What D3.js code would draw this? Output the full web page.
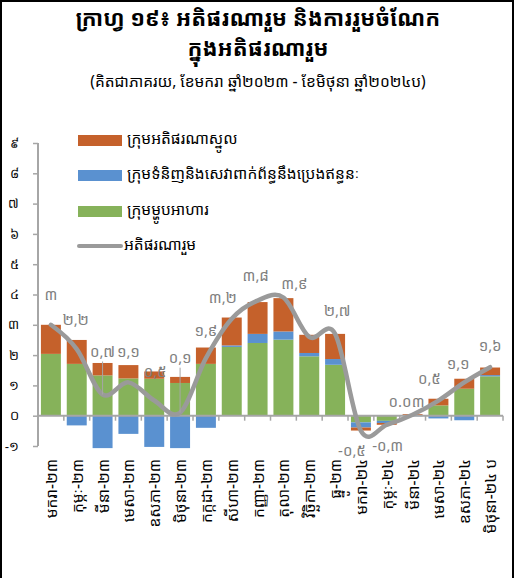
<!DOCTYPE html>
<html>
<head>
<meta charset="utf-8">
<script src="https://cdn.jsdelivr.net/npm/d3@7"></script>
<style>
  html, body { margin: 0; padding: 0; background: #fff; }
  svg { display: block; font-family: "Khmer OS", "Khmer OS System", "Noto Sans Khmer", "Noto Sans", sans-serif; }
</style>
</head>
<body>
<svg id="chart" width="515" height="578"></svg>
<script>
// months, Jan-23 .. Jun-24 (prelim.)
const months = ['មករា-២៣','កុម្ភៈ-២៣','មីនា-២៣','មេសា-២៣','ឧសភា-២៣','មិថុនា-២៣',
  'កក្កដា-២៣','សីហា-២៣','កញ្ញា-២៣','តុលា-២៣','វិច្ឆិកា-២៣','ធ្នូ-២៣',
  'មករា-២៤','កុម្ភៈ-២៤','មីនា-២៤','មេសា-២៤','ឧសភា-២៤','មិថុនា-២៤ ប'];

// contributions (percentage points)
const food   = [2.04, 1.71, 1.33, 1.23, 1.22, 1.08, 1.71, 2.27, 2.40, 2.51, 1.96, 1.68, -0.22, -0.17, 0.00, 0.34, 0.89, 1.30];
const energy = [0.00, -0.32, -1.07, -0.60, -1.03, -1.07, -0.40, 0.05, 0.30, 0.27, 0.11, 0.19, -0.17, -0.07, -0.02, -0.09, -0.15, 0.04];
const core   = [0.96, 0.79, 0.41, 0.44, 0.24, 0.20, 0.54, 0.92, 1.05, 1.10, 0.60, 0.83, -0.10, -0.06, 0.05, 0.22, 0.33, 0.25];
// headline
const headline = [3.0, 2.2, 0.7, 1.1, 0.5, 0.1, 1.9, 3.2, 3.8, 3.9, 2.6, 2.7, -0.5, -0.3, 0.03, 0.5, 1.1, 1.6];
const headlineLabels = ['៣','២,២','០,៧','១,១','០,៥','០,១','១,៩','៣,២','៣,៨','៣,៩','','២,៧','-០,៥','-០,៣','០.០៣','០,៥','១,១','១,៦'];

const yTicks = [-1,0,1,2,3,4,5,6,7,8,9];
const yTickLabels = ['-១','០','១','២','៣','៤','៥','៦','៧','៨','៩'];

const seriesNames = ['ក្រុមអតិផរណាស្នូល','ក្រុមទំនិញនិងសេវាពាក់ព័ន្ធនឹងប្រេងឥន្ធនៈ','ក្រុមម្ហូបអាហារ','អតិផរណារួម'];

const colors = { food: '#86b25a', energy: '#5a91d0', core: '#c5612b', line: '#9a9a9a' };

// label nudges [dx, dy] relative to the line point (manually placed in source)
const labelNudge = [[0,-29],[-1,-28],[0,-42],[0,-29],[1,-28],[0,-54],[0,-26],[-9,-20],[-2,-24],[11,-13],
  [0,0],[2,-22],[-9,21],[1,22],[-6,-12],[-9,-21],[-6,-17],[0,-20]];
const leaders = [2, 5];

const svg = d3.select('#chart');

// frame
svg.append('rect').attr('x', 1).attr('y', 1).attr('width', 512).attr('height', 600)
  .attr('fill', 'none').attr('stroke', '#000').attr('stroke-width', 2);

// titles
svg.append('text').attr('x', 258).attr('y', 20).attr('text-anchor', 'middle').attr('dominant-baseline', 'middle')
  .attr('font-size', 22).attr('font-weight', 'bold').text('ក្រាហ្វ ១៩៖ អតិផរណារួម និងការរួមចំណែក');
svg.append('text').attr('x', 258).attr('y', 50).attr('text-anchor', 'middle').attr('dominant-baseline', 'middle')
  .attr('font-size', 22).attr('font-weight', 'bold').text('ក្នុងអតិផរណារួម');
svg.append('text').attr('x', 258).attr('y', 83).attr('text-anchor', 'middle').attr('dominant-baseline', 'middle')
  .attr('font-size', 15.5).text('(គិតជាភាគរយ, ខែមករា ឆ្នាំ២០២៣ - ខែមិថុនា ឆ្នាំ២០២៤ប)');

const x = d3.scaleBand().domain(months).range([38, 503]).paddingInner(0.227).paddingOuter(0.113);
const y = d3.scaleLinear().domain([-1, 9]).range([446, 143]);

// stacked bars (diverging so negatives stack below zero)
const rows = months.map((m, i) => ({ m, food: food[i], energy: energy[i], core: core[i] }));
const stack = d3.stack().keys(['food', 'energy', 'core']).offset(d3.stackOffsetDiverging);
const layers = stack(rows);

svg.append('g').selectAll('g').data(layers).join('g')
  .attr('fill', d => colors[d.key])
  .selectAll('rect').data(d => d).join('rect')
  .attr('x', d => x(d.data.m))
  .attr('width', x.bandwidth())
  .attr('y', d => y(Math.max(d[0], d[1])))
  .attr('height', d => Math.abs(y(d[0]) - y(d[1])));

// y axis
const yAxis = svg.append('g').attr('transform', 'translate(38,0)')
  .call(d3.axisLeft(y).tickValues(yTicks).tickSize(5).tickPadding(14)
    .tickFormat((d, i) => yTickLabels[i]));
yAxis.select('.domain').attr('stroke', '#a6a6a6').attr('stroke-width', 2).attr('d', 'M0,143V446');
yAxis.selectAll('.tick line').attr('stroke', '#a6a6a6').attr('stroke-width', 1.5);
yAxis.selectAll('.tick text').attr('font-size', 13).attr('fill', '#000');

// x axis at zero with boundary ticks
const step = x.step();
const x0 = 38;
svg.append('line').attr('x1', x0).attr('x2', 503).attr('y1', y(0)).attr('y2', y(0))
  .attr('stroke', '#a6a6a6').attr('stroke-width', 2);
svg.append('g').selectAll('line').data(d3.range(months.length + 1)).join('line')
  .attr('x1', i => x0 + i * step).attr('x2', i => x0 + i * step)
  .attr('y1', y(0)).attr('y2', y(0) + 5)
  .attr('stroke', '#a6a6a6').attr('stroke-width', 1.5);

// category labels (rotated, low position)
svg.append('g').selectAll('text').data(months).join('text')
  .attr('transform', m => `translate(${x(m) + x.bandwidth() / 2},459) rotate(-90)`)
  .attr('text-anchor', 'end').attr('dominant-baseline', 'central')
  .attr('font-size', 15.5).attr('fill', '#000').text(m => m);

// headline line
const pts = headline.map((v, i) => [x(months[i]) + x.bandwidth() / 2, y(v)]);
svg.append('path').attr('d', d3.line().curve(d3.curveCatmullRom.alpha(0))(pts))
  .attr('fill', 'none').attr('stroke', colors.line).attr('stroke-width', 4.5).attr('stroke-linecap', 'round');

// leader lines
svg.append('g').selectAll('line').data(leaders).join('line')
  .attr('x1', i => pts[i][0]).attr('x2', i => pts[i][0])
  .attr('y1', i => pts[i][1] + labelNudge[i][1] + 9).attr('y2', i => pts[i][1])
  .attr('stroke', '#a6a6a6').attr('stroke-width', 1);

// data labels
svg.append('g').selectAll('text').data(headlineLabels).join('text')
  .attr('x', (d, i) => pts[i][0] + labelNudge[i][0])
  .attr('y', (d, i) => pts[i][1] + labelNudge[i][1])
  .attr('text-anchor', 'middle').attr('dominant-baseline', 'middle')
  .attr('font-size', 15).attr('fill', '#7f7f7f').text(d => d);

// legend
const legend = svg.append('g');
const lgY = [140, 175, 211, 246];
const lgColors = [colors.core, colors.energy, colors.food];
lgColors.forEach((c, i) => {
  legend.append('rect').attr('x', 78).attr('y', lgY[i] - 5).attr('width', 44).attr('height', 11).attr('fill', c);
});
legend.append('line').attr('x1', 79).attr('x2', 121).attr('y1', lgY[3]).attr('y2', lgY[3])
  .attr('stroke', colors.line).attr('stroke-width', 4).attr('stroke-linecap', 'round');
legend.selectAll('text').data(seriesNames).join('text')
  .attr('x', (d, i) => i === 3 ? 124 : 127).attr('y', (d, i) => lgY[i])
  .attr('dominant-baseline', 'middle').attr('font-size', 15.5).attr('fill', '#000').text(d => d);
</script>
</body>
</html>
